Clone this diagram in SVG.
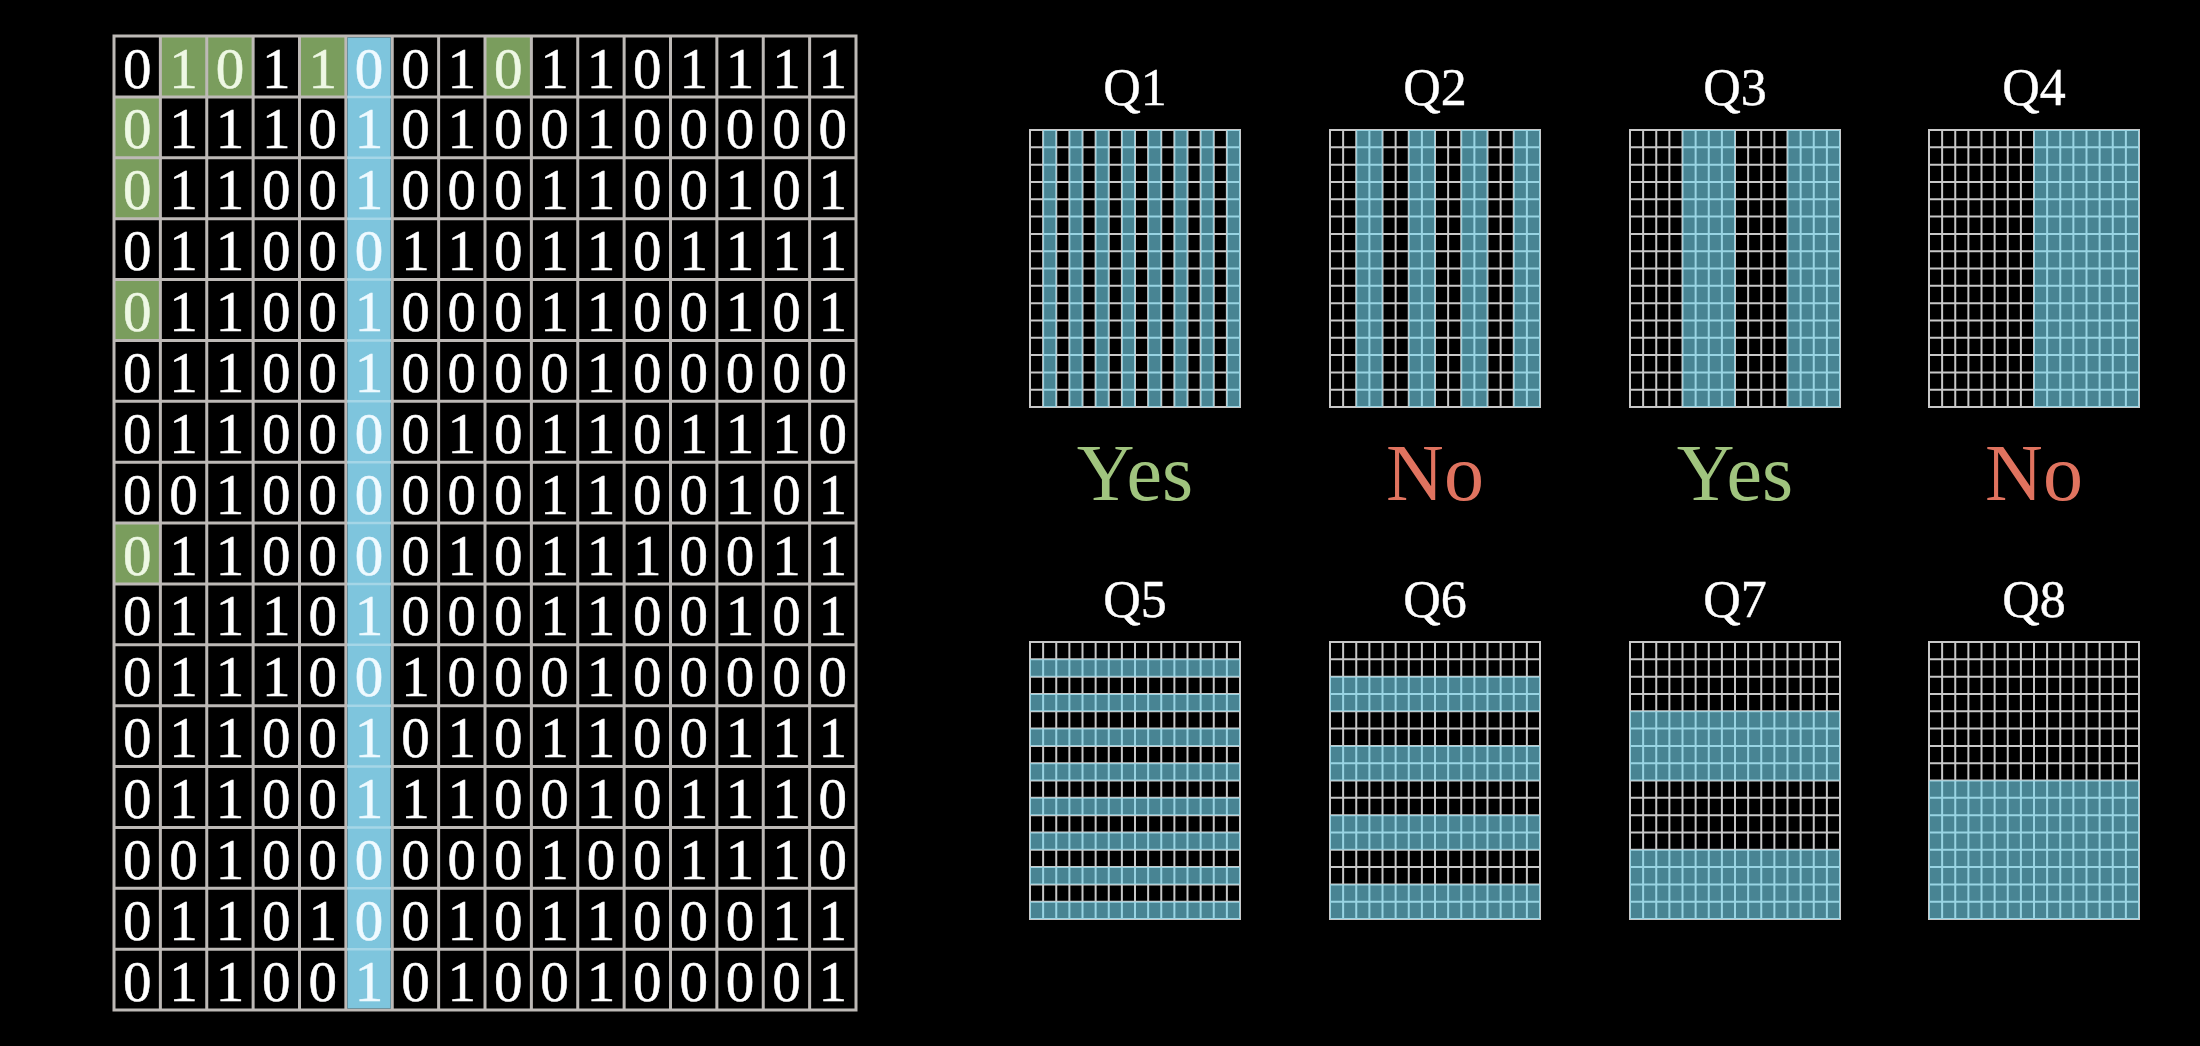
<svg xmlns="http://www.w3.org/2000/svg" xmlns:xlink="http://www.w3.org/1999/xlink" width="2200" height="1046" viewBox="0 0 2200 1046">
<style>
.d{font-family:"Liberation Serif",serif;font-size:57px;fill:#ffffff;stroke:#ffffff;stroke-width:0.5;text-anchor:middle}
.g{fill:#eef8e4;stroke:#eef8e4}
.c{fill:#effaff;stroke:#effaff}
.ql{font-family:"Liberation Serif",serif;font-size:52px;fill:#ffffff;stroke:#ffffff;stroke-width:0.4;text-anchor:middle}
.ans{font-family:"Liberation Serif",serif;font-size:80px;text-anchor:middle}
.yes{fill:#a0c47e}
.no{fill:#e0735f}
.st{fill:#78dcf5;fill-opacity:0.6}
.gc{fill:#7a9d5d}
</style>
<defs>
<path id="qgrid" fill="none" stroke="#c8c8c8" stroke-width="2" stroke-linecap="square" d="M0 0V277M13.125 0V277M26.25 0V277M39.375 0V277M52.5 0V277M65.625 0V277M78.75 0V277M91.875 0V277M105 0V277M118.125 0V277M131.25 0V277M144.375 0V277M157.5 0V277M170.625 0V277M183.75 0V277M196.875 0V277M210 0V277M0 0H210M0 17.3125H210M0 34.625H210M0 51.9375H210M0 69.25H210M0 86.5625H210M0 103.875H210M0 121.1875H210M0 138.5H210M0 155.8125H210M0 173.125H210M0 190.4375H210M0 207.75H210M0 225.0625H210M0 242.375H210M0 259.6875H210M0 277H210"/>
</defs>
<rect x="0" y="0" width="2200" height="1046" fill="#000000"/>
<g id="bit-grid">
<rect class="gc" x="160.375" y="36" width="92.75" height="60.875"/>
<rect class="gc" x="299.5" y="36" width="46.375" height="60.875"/>
<rect class="gc" x="485" y="36" width="46.375" height="60.875"/>
<rect class="gc" x="114" y="96.875" width="46.375" height="121.75"/>
<rect class="gc" x="114" y="279.5" width="46.375" height="60.875"/>
<rect class="gc" x="114" y="523" width="46.375" height="60.875"/>
<path fill="none" stroke="#bdb9b6" stroke-width="3" stroke-linecap="square" d="M114 36V1010M160.375 36V1010M206.75 36V1010M253.125 36V1010M299.5 36V1010M345.875 36V1010M392.25 36V1010M438.625 36V1010M485 36V1010M531.375 36V1010M577.75 36V1010M624.125 36V1010M670.5 36V1010M716.875 36V1010M763.25 36V1010M809.625 36V1010M856 36V1010M114 36H856M114 96.875H856M114 157.75H856M114 218.625H856M114 279.5H856M114 340.375H856M114 401.25H856M114 462.125H856M114 523H856M114 583.875H856M114 644.75H856M114 705.625H856M114 766.5H856M114 827.375H856M114 888.25H856M114 949.125H856M114 1010H856"/>
<rect x="347.4" y="37.5" width="43.3" height="971" fill="#7ec5dd"/>
<path fill="none" stroke="#ffffff" stroke-opacity="0.3" stroke-width="2.5" d="M347.4 96.875H390.7M347.4 157.75H390.7M347.4 218.625H390.7M347.4 279.5H390.7M347.4 340.375H390.7M347.4 401.25H390.7M347.4 462.125H390.7M347.4 523H390.7M347.4 583.875H390.7M347.4 644.75H390.7M347.4 705.625H390.7M347.4 766.5H390.7M347.4 827.375H390.7M347.4 888.25H390.7M347.4 949.125H390.7"/>
<text class="d" x="137.2 183.6 229.9 276.3 322.7 369.1 415.4 461.8 508.2 554.6 600.9 647.3 693.7 740.1 786.4 832.8" y="87.5">0<tspan class="g">10</tspan>1<tspan class="g">1</tspan><tspan class="c">0</tspan>01<tspan class="g">0</tspan>1101111</text>
<text class="d" x="137.2 183.6 229.9 276.3 322.7 369.1 415.4 461.8 508.2 554.6 600.9 647.3 693.7 740.1 786.4 832.8" y="148.4"><tspan class="g">0</tspan>1110<tspan class="c">1</tspan>0100100000</text>
<text class="d" x="137.2 183.6 229.9 276.3 322.7 369.1 415.4 461.8 508.2 554.6 600.9 647.3 693.7 740.1 786.4 832.8" y="209.3"><tspan class="g">0</tspan>1100<tspan class="c">1</tspan>0001100101</text>
<text class="d" x="137.2 183.6 229.9 276.3 322.7 369.1 415.4 461.8 508.2 554.6 600.9 647.3 693.7 740.1 786.4 832.8" y="270.1">01100<tspan class="c">0</tspan>1101101111</text>
<text class="d" x="137.2 183.6 229.9 276.3 322.7 369.1 415.4 461.8 508.2 554.6 600.9 647.3 693.7 740.1 786.4 832.8" y="331"><tspan class="g">0</tspan>1100<tspan class="c">1</tspan>0001100101</text>
<text class="d" x="137.2 183.6 229.9 276.3 322.7 369.1 415.4 461.8 508.2 554.6 600.9 647.3 693.7 740.1 786.4 832.8" y="391.9">01100<tspan class="c">1</tspan>0000100000</text>
<text class="d" x="137.2 183.6 229.9 276.3 322.7 369.1 415.4 461.8 508.2 554.6 600.9 647.3 693.7 740.1 786.4 832.8" y="452.8">01100<tspan class="c">0</tspan>0101101110</text>
<text class="d" x="137.2 183.6 229.9 276.3 322.7 369.1 415.4 461.8 508.2 554.6 600.9 647.3 693.7 740.1 786.4 832.8" y="513.6">00100<tspan class="c">0</tspan>0001100101</text>
<text class="d" x="137.2 183.6 229.9 276.3 322.7 369.1 415.4 461.8 508.2 554.6 600.9 647.3 693.7 740.1 786.4 832.8" y="574.5"><tspan class="g">0</tspan>1100<tspan class="c">0</tspan>0101110011</text>
<text class="d" x="137.2 183.6 229.9 276.3 322.7 369.1 415.4 461.8 508.2 554.6 600.9 647.3 693.7 740.1 786.4 832.8" y="635.4">01110<tspan class="c">1</tspan>0001100101</text>
<text class="d" x="137.2 183.6 229.9 276.3 322.7 369.1 415.4 461.8 508.2 554.6 600.9 647.3 693.7 740.1 786.4 832.8" y="696.3">01110<tspan class="c">0</tspan>1000100000</text>
<text class="d" x="137.2 183.6 229.9 276.3 322.7 369.1 415.4 461.8 508.2 554.6 600.9 647.3 693.7 740.1 786.4 832.8" y="757.1">01100<tspan class="c">1</tspan>0101100111</text>
<text class="d" x="137.2 183.6 229.9 276.3 322.7 369.1 415.4 461.8 508.2 554.6 600.9 647.3 693.7 740.1 786.4 832.8" y="818">01100<tspan class="c">1</tspan>1100101110</text>
<text class="d" x="137.2 183.6 229.9 276.3 322.7 369.1 415.4 461.8 508.2 554.6 600.9 647.3 693.7 740.1 786.4 832.8" y="878.9">00100<tspan class="c">0</tspan>0001001110</text>
<text class="d" x="137.2 183.6 229.9 276.3 322.7 369.1 415.4 461.8 508.2 554.6 600.9 647.3 693.7 740.1 786.4 832.8" y="939.8">01101<tspan class="c">0</tspan>0101100011</text>
<text class="d" x="137.2 183.6 229.9 276.3 322.7 369.1 415.4 461.8 508.2 554.6 600.9 647.3 693.7 740.1 786.4 832.8" y="1000.6">01100<tspan class="c">1</tspan>0100100001</text>
</g>
<g id="q1" transform="translate(1030,130)">
<use xlink:href="#qgrid" href="#qgrid"/>
<rect class="st" x="13.125" y="0" width="13.125" height="277"/><rect class="st" x="39.375" y="0" width="13.125" height="277"/><rect class="st" x="65.625" y="0" width="13.125" height="277"/><rect class="st" x="91.875" y="0" width="13.125" height="277"/><rect class="st" x="118.125" y="0" width="13.125" height="277"/><rect class="st" x="144.375" y="0" width="13.125" height="277"/><rect class="st" x="170.625" y="0" width="13.125" height="277"/><rect class="st" x="196.875" y="0" width="13.125" height="277"/>
<text class="ql" x="105" y="-25">Q1</text>
<text class="ans yes" x="105" y="370">Yes</text>
</g>
<g id="q2" transform="translate(1330,130)">
<use xlink:href="#qgrid" href="#qgrid"/>
<rect class="st" x="26.25" y="0" width="26.25" height="277"/><rect class="st" x="78.75" y="0" width="26.25" height="277"/><rect class="st" x="131.25" y="0" width="26.25" height="277"/><rect class="st" x="183.75" y="0" width="26.25" height="277"/>
<text class="ql" x="105" y="-25">Q2</text>
<text class="ans no" x="105" y="370">No</text>
</g>
<g id="q3" transform="translate(1630,130)">
<use xlink:href="#qgrid" href="#qgrid"/>
<rect class="st" x="52.5" y="0" width="52.5" height="277"/><rect class="st" x="157.5" y="0" width="52.5" height="277"/>
<text class="ql" x="105" y="-25">Q3</text>
<text class="ans yes" x="105" y="370">Yes</text>
</g>
<g id="q4" transform="translate(1929,130)">
<use xlink:href="#qgrid" href="#qgrid"/>
<rect class="st" x="105" y="0" width="105" height="277"/>
<text class="ql" x="105" y="-25">Q4</text>
<text class="ans no" x="105" y="370">No</text>
</g>
<g id="q5" transform="translate(1030,642)">
<use xlink:href="#qgrid" href="#qgrid"/>
<rect class="st" x="0" y="17.3125" width="210" height="17.3125"/><rect class="st" x="0" y="51.9375" width="210" height="17.3125"/><rect class="st" x="0" y="86.5625" width="210" height="17.3125"/><rect class="st" x="0" y="121.1875" width="210" height="17.3125"/><rect class="st" x="0" y="155.8125" width="210" height="17.3125"/><rect class="st" x="0" y="190.4375" width="210" height="17.3125"/><rect class="st" x="0" y="225.0625" width="210" height="17.3125"/><rect class="st" x="0" y="259.6875" width="210" height="17.3125"/>
<text class="ql" x="105" y="-25">Q5</text>
</g>
<g id="q6" transform="translate(1330,642)">
<use xlink:href="#qgrid" href="#qgrid"/>
<rect class="st" x="0" y="34.625" width="210" height="34.625"/><rect class="st" x="0" y="103.875" width="210" height="34.625"/><rect class="st" x="0" y="173.125" width="210" height="34.625"/><rect class="st" x="0" y="242.375" width="210" height="34.625"/>
<text class="ql" x="105" y="-25">Q6</text>
</g>
<g id="q7" transform="translate(1630,642)">
<use xlink:href="#qgrid" href="#qgrid"/>
<rect class="st" x="0" y="69.25" width="210" height="69.25"/><rect class="st" x="0" y="207.75" width="210" height="69.25"/>
<text class="ql" x="105" y="-25">Q7</text>
</g>
<g id="q8" transform="translate(1929,642)">
<use xlink:href="#qgrid" href="#qgrid"/>
<rect class="st" x="0" y="138.5" width="210" height="138.5"/>
<text class="ql" x="105" y="-25">Q8</text>
</g>
<g id="connectors"/>
</svg>
